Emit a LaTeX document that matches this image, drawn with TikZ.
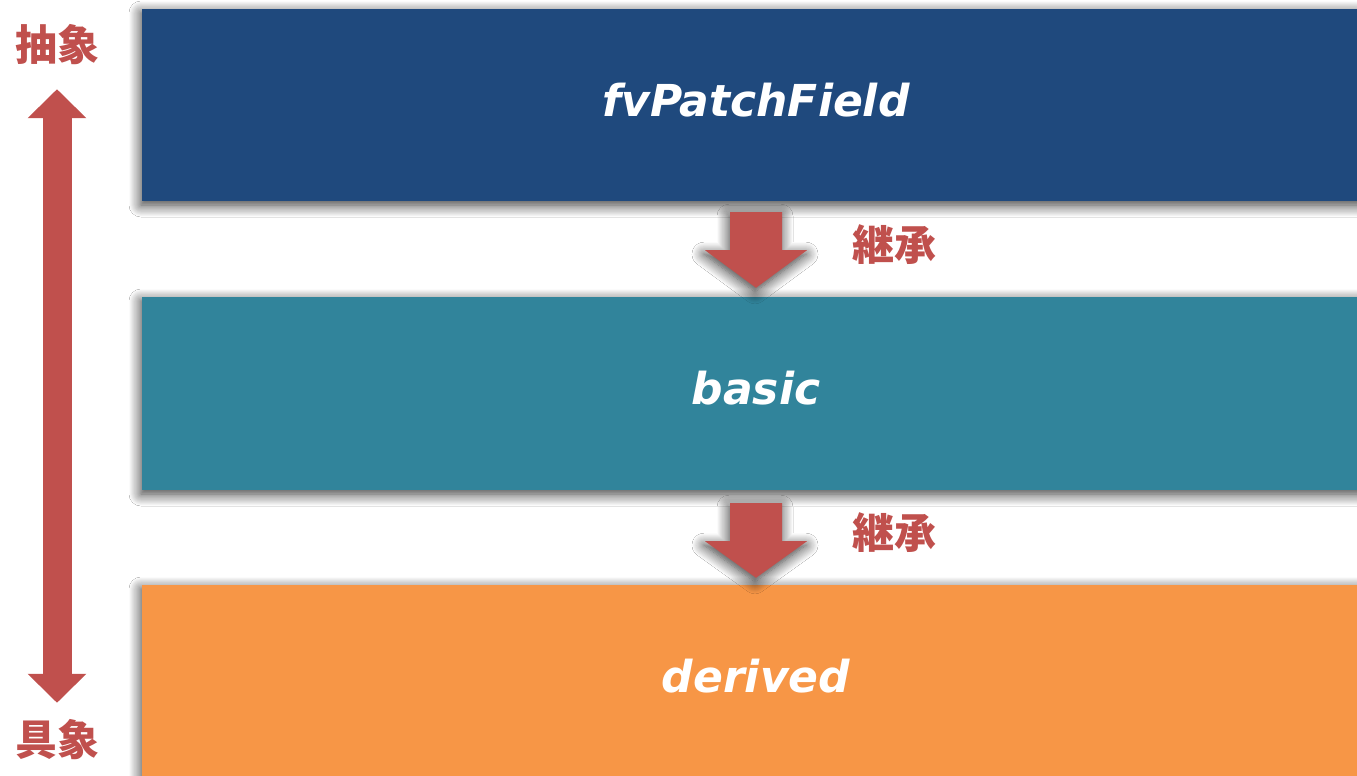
\documentclass[tikz,border=0pt]{standalone}
\usepackage{fontspec}
\newfontfamily\latfont{DejaVu Sans}
\newfontfamily\cjkfont{Noto Sans CJK JP}
\usetikzlibrary{calc,arrows.meta,shadows.blur}
\definecolor{abstractblue}{HTML}{1F497D}
\definecolor{basicteal}{HTML}{31849B}
\definecolor{derivedorange}{HTML}{F79646}
\definecolor{accentred}{HTML}{C0504D}
\tikzset{
  softshadow/.style={blur shadow={shadow xshift=-1pt, shadow yshift=-4pt,
      shadow blur radius=12pt, shadow blur steps=12, shadow opacity=80}},
  classbox/.style={rectangle, inner sep=0pt, minimum width=1228pt,
      text height=33pt, text depth=11pt, text=white,
      font=\latfont\bfseries\itshape\fontsize{44}{54}\selectfont, softshadow},
  redlabel/.style={inner sep=0pt, text height=36pt, text depth=4pt,
      text=accentred, font=\cjkfont\bfseries\fontsize{42}{50}\selectfont},
  inhArrow/.style={fill=accentred, softshadow},
  levelarrow/.style={draw=accentred, line width=29pt,
      {Triangle[width=57pt,length=29pt]}-{Triangle[width=57pt,length=29pt]}},
}
\begin{document}
\begin{tikzpicture}[x=1pt,y=-1pt]
  \clip (0,0) rectangle (1357,776);
  \fill[white] (0,0) rectangle (1357,776);

  % class hierarchy, from the abstract base down to derived types
  \node[classbox, fill=abstractblue, minimum height=192pt] (fv) at (756,105) {fvPatchField};
  \node[classbox, fill=basicteal, minimum height=193pt] (basic) at (756,393.5) {basic};
  \node[classbox, fill=derivedorange, minimum height=193pt] (derived) at (756,681.5) {derived};

  % inheritance arrows between the layers
  \fill[inhArrow] ($(fv.south)+(-26,11)$) -- ++(52,0) -- ++(0,38) -- ++(25,0)
      -- ($(basic.north)+(0,-9)$) -- ($(fv.south)+(-51,49)$) -- ++(25,0) -- cycle;
  \fill[inhArrow] ($(basic.south)+(-26,13)$) -- ++(52,0) -- ++(0,38) -- ++(25,0)
      -- ($(derived.north)+(0,-7)$) -- ($(basic.south)+(-51,51)$) -- ++(25,0) -- cycle;
  \node[redlabel] (inh1) at (894,244) {継承};
  \node[redlabel] (inh2) at (894,532) {継承};

  % abstraction scale on the left
  \node[redlabel] (abs) at (57,44) {抽象};
  \node[redlabel] (con) at (57,739) {具象};
  \draw[levelarrow, shorten <=25pt, shorten >=16pt] (abs.south) -- (con.north);
\end{tikzpicture}
\end{document}
